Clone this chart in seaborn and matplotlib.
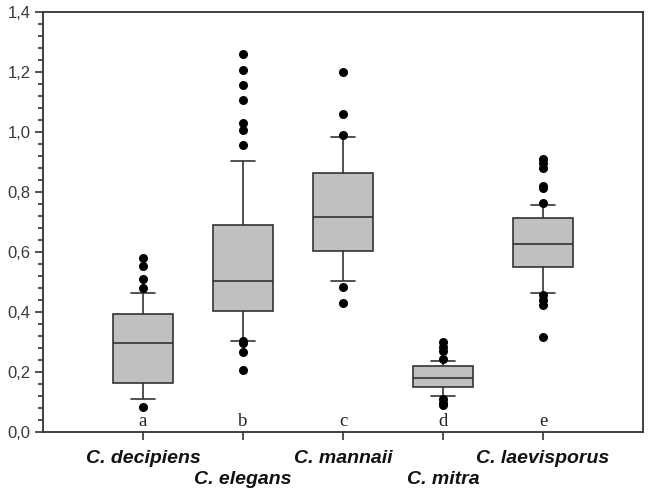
import matplotlib
matplotlib.use("Agg")
import matplotlib.pyplot as plt
import seaborn as sns
import pandas as pd
from matplotlib.ticker import MultipleLocator, FuncFormatter

# ---- data ----
species = ["C. decipiens", "C. elegans", "C. mannaii", "C. mitra", "C. laevisporus"]
letters = ["a", "b", "c", "d", "e"]
whisker_low = [0.111, 0.303, 0.503, 0.120, 0.463]
q1 = [0.164, 0.402, 0.605, 0.149, 0.551]
median = [0.298, 0.503, 0.717, 0.181, 0.626]
q3 = [0.393, 0.689, 0.865, 0.220, 0.712]
whisker_high = [0.464, 0.904, 0.983, 0.237, 0.758]
outliers_decipiens = [0.084, 0.481, 0.510, 0.555, 0.579]
outliers_elegans = [0.206, 0.268, 0.297, 0.305, 0.957, 1.007, 1.029, 1.106, 1.157, 1.206, 1.259]
outliers_mannaii = [0.429, 0.482, 0.990, 1.059, 1.201]
outliers_mitra = [0.090, 0.097, 0.111, 0.244, 0.270, 0.285, 0.299]
outliers_laevisporus = [0.318, 0.425, 0.440, 0.457, 0.762, 0.812, 0.821, 0.880, 0.897, 0.910]
y_ticks = [0.0, 0.2, 0.4, 0.6, 0.8, 1.0, 1.2, 1.4]

# ---- tables built from the arrays ----
box_rows = []
for i, sp in enumerate(species):
    for v in (whisker_low[i], q1[i], median[i], q3[i], whisker_high[i]):
        box_rows.append({"species": sp, "value": v})
box_df = pd.DataFrame(box_rows)

out_lists = [outliers_decipiens, outliers_elegans, outliers_mannaii,
             outliers_mitra, outliers_laevisporus]
out_rows = []
for sp, vals in zip(species, out_lists):
    for v in vals:
        out_rows.append({"species": sp, "value": v})
out_df = pd.DataFrame(out_rows)

sns.set_theme(style="white")
plt.rcParams["font.family"] = ["Liberation Sans", "DejaVu Sans"]

fig = plt.figure(figsize=(6.5, 4.93), dpi=100)
ax = fig.add_axes([43 / 650, 1 - 432 / 493, 600 / 650, 420 / 493])

edge = "#333333"
sns.boxplot(data=box_df, x="species", y="value", order=species, ax=ax,
            whis=(0, 100), width=0.6, color="#c0c0c0", saturation=1,
            linecolor=edge, linewidth=1.2, showfliers=False, capwidths=0.24)
sns.stripplot(data=out_df, x="species", y="value", order=species, ax=ax,
              jitter=False, color="black", size=6.5, linewidth=0, zorder=5)

ax.set_xlim(-1, 5)
ax.set_ylim(0, 1.4)
ax.set_xlabel("")
ax.set_ylabel("")

ax.set_yticks(y_ticks)
ax.yaxis.set_minor_locator(MultipleLocator(0.04))
ax.yaxis.set_major_formatter(FuncFormatter(lambda v, p: f"{v:.1f}".replace(".", ",")))
ax.tick_params(axis="y", which="major", direction="out", length=6, width=1.2,
               color=edge, labelsize=12, labelcolor="#3a3a3a", left=True, pad=3)
ax.tick_params(axis="y", which="minor", direction="out", length=3.5, width=1.2,
               color=edge, left=True)
ax.set_xticks(range(len(species)))
ax.set_xticklabels([])
ax.tick_params(axis="x", which="major", direction="out", length=6, width=1.2,
               color=edge, bottom=True)

for s in ax.spines.values():
    s.set_visible(True)
    s.set_color(edge)
    s.set_linewidth(1.3)

xt = ax.get_xaxis_transform()
for i, sp in enumerate(species):
    ypos = -0.062 if i % 2 == 0 else -0.112
    ax.text(i, ypos, sp, transform=xt, ha="center", va="center",
            fontsize=14, fontweight="bold", fontstyle="italic", color="#111111")
    ax.text(i, 0.02, letters[i], ha="center", va="baseline",
            fontsize=13.5, family=["Liberation Serif", "DejaVu Serif"], color="#222222")

fig.savefig("out.png", dpi=100)
